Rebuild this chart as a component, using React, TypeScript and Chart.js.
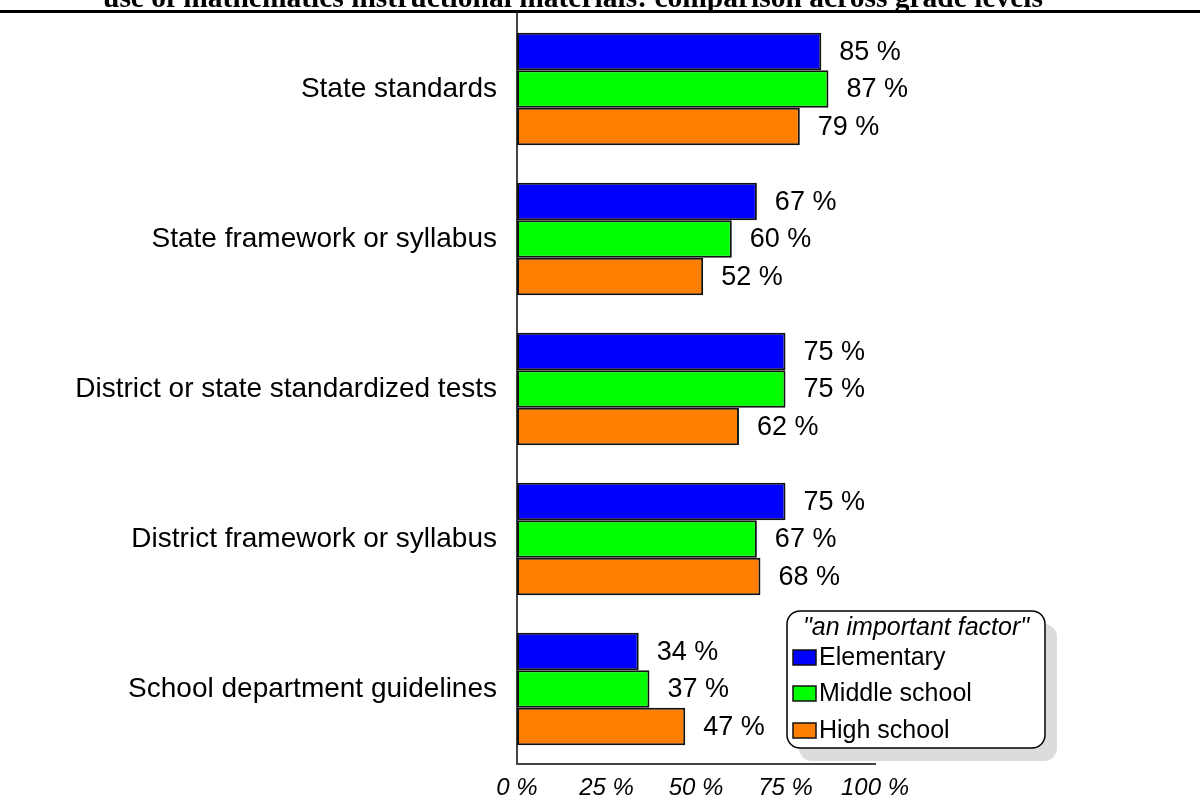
import React, { useEffect, useRef } from "react";
import { Chart, registerables } from "chart.js";
Chart.register(...registerables);

const categories = [
  "State standards",
  "State framework or syllabus",
  "District or state standardized tests",
  "District framework or syllabus",
  "School department guidelines",
];
const elementary = [85, 67, 75, 75, 34];
const middleSchool = [87, 60, 75, 67, 37];
const highSchool = [79, 52, 62, 68, 47];
const xTicks = [0, 25, 50, 75, 100];
const seriesNames = ["Elementary", "Middle school", "High school"];
const seriesColors = ["#0000ff", "#00ff00", "#ff8000"];
const titleText =
  "use of mathematics instructional materials: comparison across grade levels";
const legendTitle = '"an important factor"';

const SANS = '"Liberation Sans", Arial, sans-serif';
const SERIF = '"Liberation Serif", "Times New Roman", serif';

const decorPlugin = {
  id: "decor",
  afterDatasetsDraw(chart: any) {
    const ctx = chart.ctx;
    ctx.save();
    ctx.fillStyle = "#000";
    ctx.font = `27px ${SANS}`;
    ctx.textAlign = "left";
    ctx.textBaseline = "middle";
    chart.data.datasets.forEach((ds: any, i: number) => {
      const meta = chart.getDatasetMeta(i);
      meta.data.forEach((el: any, j: number) => {
        ctx.fillText(`${ds.data[j]} %`, el.x + 18, el.y + 1);
      });
    });
    ctx.restore();
  },
  afterDraw(chart: any) {
    const ctx = chart.ctx;
    ctx.save();
    // title (clipped at top)
    ctx.fillStyle = "#000";
    ctx.font = `bold 29.5px ${SERIF}`;
    ctx.textAlign = "center";
    ctx.textBaseline = "alphabetic";
    ctx.fillText(titleText, 573, 7);
    ctx.fillRect(0, 10, 1200, 3);

    // legend
    const lx = 787, ly = 611, lw = 258, lh = 137, r = 13;
    const rr = (x: number, y: number, w: number, h: number) => {
      ctx.beginPath();
      ctx.moveTo(x + r, y);
      ctx.arcTo(x + w, y, x + w, y + h, r);
      ctx.arcTo(x + w, y + h, x, y + h, r);
      ctx.arcTo(x, y + h, x, y, r);
      ctx.arcTo(x, y, x + w, y, r);
      ctx.closePath();
    };
    ctx.fillStyle = "#dcdcdc";
    rr(lx + 12, ly + 13, lw, lh);
    ctx.fill();
    ctx.fillStyle = "#fff";
    rr(lx, ly, lw, lh);
    ctx.fill();
    ctx.strokeStyle = "#000";
    ctx.lineWidth = 1.5;
    ctx.stroke();

    ctx.fillStyle = "#000";
    ctx.font = `italic 25px ${SANS}`;
    ctx.textAlign = "center";
    ctx.textBaseline = "middle";
    ctx.fillText(legendTitle, lx + lw / 2, 628);
    const rowY = [657, 693, 730];
    ctx.textAlign = "left";
    ctx.font = `25px ${SANS}`;
    seriesNames.forEach((name, i) => {
      ctx.fillStyle = seriesColors[i];
      ctx.fillRect(793, rowY[i] - 7, 23, 15);
      ctx.strokeStyle = "#111";
      ctx.lineWidth = 1.5;
      ctx.strokeRect(793, rowY[i] - 7, 23, 15);
      ctx.fillStyle = "#000";
      ctx.fillText(name, 819, rowY[i] + 1);
    });
    ctx.restore();
  },
};

export default function App() {
  const ref = useRef<HTMLCanvasElement>(null);
  useEffect(() => {
    if (!ref.current) return;
    const mk = (label: string, data: number[], color: string) => ({
      label,
      data,
      backgroundColor: color,
      borderColor: "#111",
      borderWidth: 2,
      borderSkipped: false,
      barPercentage: 1,
      categoryPercentage: 0.75,
    });
    const chart = new Chart(ref.current, {
      type: "bar",
      data: {
        labels: categories,
        datasets: [
          mk(seriesNames[0], elementary, seriesColors[0]),
          mk(seriesNames[1], middleSchool, seriesColors[1]),
          mk(seriesNames[2], highSchool, seriesColors[2]),
        ],
      },
      options: {
        indexAxis: "y",
        animation: false,
        responsive: true,
        maintainAspectRatio: false,
        layout: { padding: { top: 14, right: 325, left: 0, bottom: 0 } },
        plugins: {
          legend: { display: false },
          title: { display: false },
          tooltip: { enabled: false },
        },
        scales: {
          x: {
            min: 0,
            max: 100,
            afterBuildTicks: (s: any) => {
              s.ticks = xTicks.map((v) => ({ value: v }));
            },
            afterFit: (s: any) => {
              s.height = 36;
              s.paddingLeft = 0;
              s.paddingRight = 0;
            },
            ticks: {
              callback: (v: any) => `${v} %`,
              color: "#000",
              font: { family: SANS, size: 24, style: "italic" },
              padding: 10,
              maxRotation: 0,
            },
            grid: { display: false, drawTicks: false },
            border: { display: true, color: "#444", width: 2 },
          },
          y: {
            afterFit: (s: any) => {
              s.width = 517;
              s.paddingTop = 0;
              s.paddingBottom = 0;
            },
            ticks: {
              color: "#000",
              font: { family: SANS, size: 28 },
              padding: 20,
            },
            grid: { display: false, drawTicks: false },
            border: { display: true, color: "#444", width: 2 },
          },
        },
      },
      plugins: [decorPlugin],
    } as any);
    return () => chart.destroy();
  }, []);
  return (
    <div style={{ position: "absolute", left: 0, top: 0, width: 1200, height: 800, background: "#fff" }}>
      <canvas ref={ref} />
    </div>
  );
}
